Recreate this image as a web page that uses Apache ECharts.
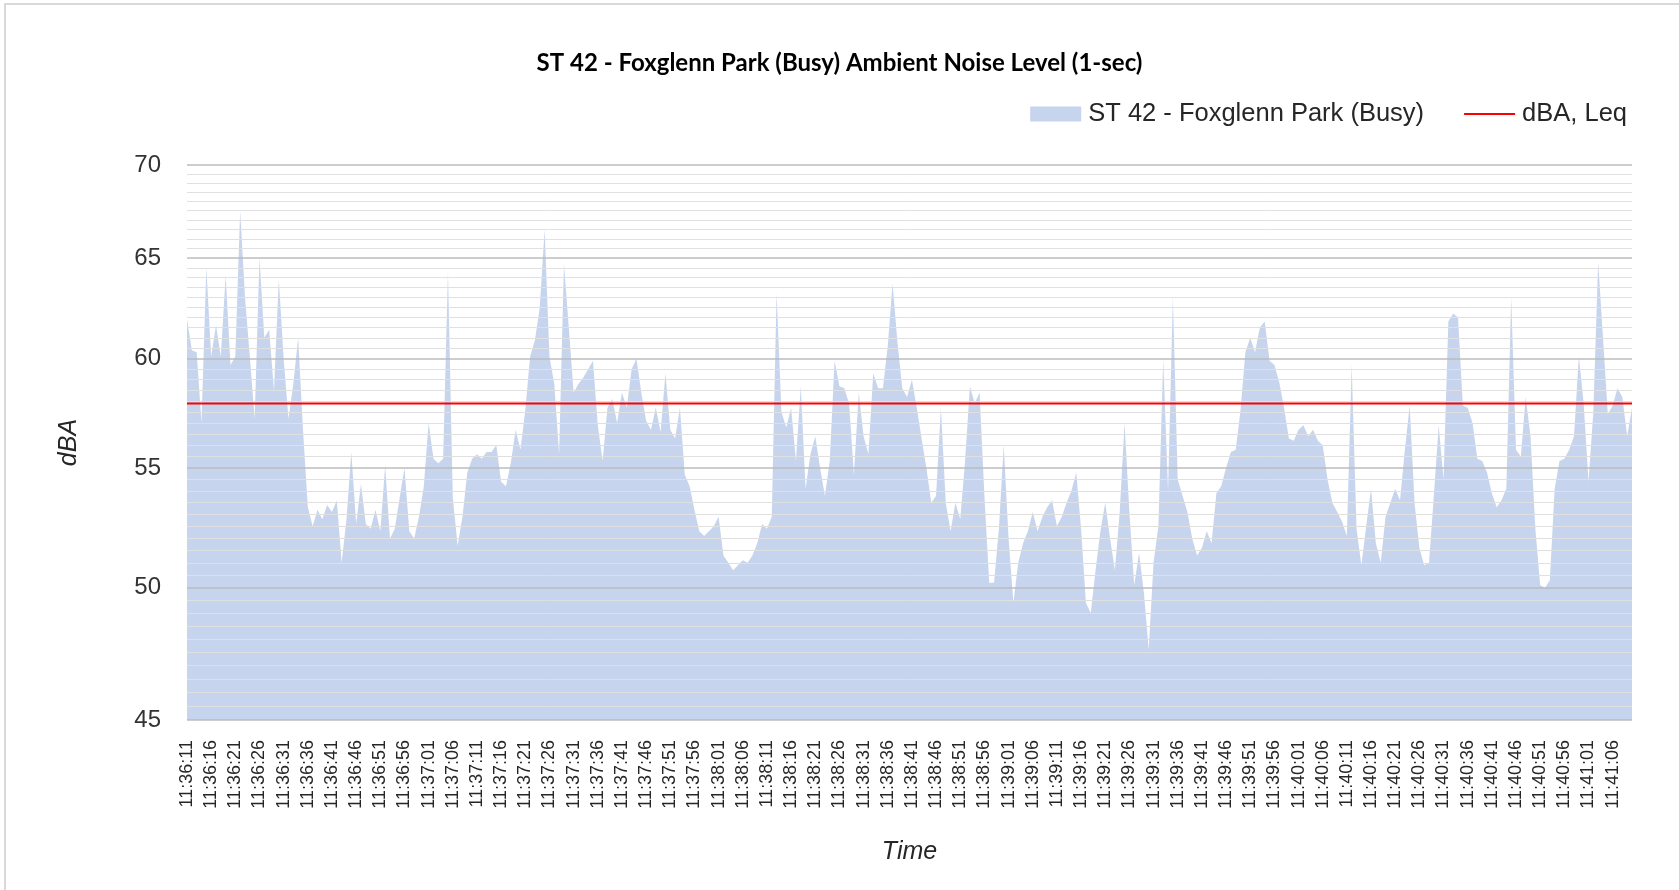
<!DOCTYPE html>
<html>
<head>
<meta charset="utf-8">
<script src="https://cdn.jsdelivr.net/npm/echarts@6/dist/echarts.min.js"></script>
<style>
  html, body { margin: 0; padding: 0; background: #fff; }
  #frame { position: absolute; left: 4px; top: 3px; width: 1700px; height: 900px; border-left: 2px solid #d9d9d9; border-top: 2px solid #d9d9d9; }
  #chart { position: absolute; left: 0; top: 0; width: 1679px; height: 890px; }
</style>
</head>
<body>
<div id="frame"></div>
<div id="chart"></div>
<script>
// ---- Data (1-second samples, 11:36:11 onwards) ----
const START_TIME = '11:36:11';
const SAMPLE_COUNT = 300;
const LEQ = 57.9;
const Y_TICKS = [45, 50, 55, 60, 65, 70];
const SERIES_NAME = 'ST 42 - Foxglenn Park (Busy)';
const LEQ_NAME = 'dBA, Leq';

const levels1 = [61.9,60.4,60.3,57.0,64.5,60.1,61.6,60.1,64.1,59.7,60.1,67.5,63.0,60.1,57.2,65.0,61.0,61.4,58.5,63.9,
  60.0,57.2,58.8,61.0,56.7,53.3,52.5,53.2,52.8,53.4,53.1,53.6,51.0,52.8,55.7,52.6,54.3,52.6,52.4,53.2,
  52.3,55.1,52.0,52.4,53.7,55.0,52.3,52.0,52.9,54.2];
const levels2 = [57.0,55.4,55.2,55.4,64.3,53.7,51.7,52.9,54.8,55.4,55.6,55.4,55.7,55.7,56.0,54.4,54.2,55.2,56.7,55.8,
  57.6,60.1,60.9,62.5,66.5,60.1,58.8,55.6,64.7,61.5,58.4,58.8,59.1,59.5,59.9,56.9,55.3,57.7,58.1,57.0,
  58.4,57.7,59.5,60.0,58.4,57.1,56.7,57.7,56.6,59.3];
const levels3 = [56.7,56.3,57.7,54.7,54.2,53.2,52.3,52.1,52.3,52.5,52.9,51.3,51.0,50.7,50.9,51.1,51.0,51.3,51.8,52.6,
  52.4,52.9,63.2,57.5,56.8,57.7,55.3,58.7,54.1,55.6,56.4,55.0,53.8,55.3,59.9,58.7,58.6,57.9,54.7,58.4,
  56.4,55.6,59.3,58.6,58.6,60.6,63.7,60.8,58.6,58.2];
const levels4 = [59.0,57.7,56.3,55.0,53.5,53.8,57.7,53.5,52.3,53.5,52.8,55.3,58.7,57.9,58.4,53.8,50.2,50.2,52.4,56.0,
  52.0,49.4,51.0,51.8,52.3,53.1,52.3,52.9,53.3,53.6,52.5,52.9,53.5,54.0,54.8,52.4,49.4,49.0,50.7,52.3,
  53.5,52.0,50.7,53.1,57.0,53.1,50.1,51.4,49.8,47.6];
const levels5 = [51.0,52.5,60.0,54.0,63.0,54.5,53.8,53.1,52.0,51.3,51.6,52.3,51.8,53.9,54.2,55.0,55.7,55.8,57.6,60.3,
  61.0,60.3,61.5,61.8,59.9,59.7,58.9,57.7,56.3,56.2,56.7,56.9,56.4,56.7,56.2,56.0,54.5,53.5,53.1,52.7,
  52.1,59.7,52.4,50.9,52.5,54.1,51.8,51.0,52.9,53.5];
const levels6 = [54.1,53.6,55.8,57.8,53.5,51.6,50.9,51.0,53.8,56.9,54.5,61.8,62.2,62.0,57.8,57.7,57.0,55.4,55.3,54.8,
  53.9,53.3,53.6,54.1,63.0,55.8,55.5,58.2,56.4,52.4,50.1,50.0,50.3,54.1,55.3,55.4,55.8,56.4,60.1,57.9,
  54.4,57.5,64.8,61.0,57.4,57.8,58.6,58.2,56.4,57.7];

const levels = [].concat(levels1, levels2, levels3, levels4, levels5, levels6);

// time categories, one per second
const categories = [];
(function () {
  const p = START_TIME.split(':').map(Number);
  let t = p[0] * 3600 + p[1] * 60 + p[2];
  const pad = n => (n < 10 ? '0' : '') + n;
  for (let k = 0; k < SAMPLE_COUNT; k++, t++) {
    categories.push(Math.floor(t / 3600) + ':' + pad(Math.floor(t / 60) % 60) + ':' + pad(t % 60));
  }
})();

// gridline values: major at ticks, minor every 0.5 dBA
const minorGrid = [];
for (let v = 45.5; v < 70; v += 0.5) {
  if (Y_TICKS.indexOf(v) < 0) minorGrid.push(v);
}

const AXIS_FONT = '"Liberation Sans", Arial, sans-serif';
const chart = echarts.init(document.getElementById('chart'), null, { renderer: 'canvas' });

chart.setOption({
  animation: false,
  backgroundColor: 'transparent',
  title: {
    text: 'ST 42 - Foxglenn Park (Busy) Ambient Noise Level (1-sec)',
    left: 'center',
    top: 46,
    textStyle: { fontFamily: 'Lato, "Open Sans", sans-serif', fontWeight: 'bold', fontSize: 24, color: '#000' }
  },
  legend: {
    right: 47,
    top: 96,
    itemGap: 40,
    itemWidth: 51,
    itemHeight: 15,
    textStyle: { fontFamily: AXIS_FONT, fontSize: 25.5, color: '#262626', padding: [0, 0, 0, 2] },
    data: [
      { name: SERIES_NAME, icon: 'rect', itemStyle: { color: '#c6d4ee', opacity: 1 } },
      { name: LEQ_NAME, icon: 'path://M0,0 L100,0 L100,4 L0,4 Z', itemStyle: { color: '#ff0000' } }
    ]
  },
  grid: { left: 187, right: 47, top: 165, bottom: 170, containLabel: false },
  xAxis: {
    type: 'category',
    data: categories,
    boundaryGap: false,
    name: 'Time',
    nameLocation: 'middle',
    nameGap: 120,
    nameTextStyle: { fontFamily: AXIS_FONT, fontStyle: 'italic', fontSize: 25, color: '#262626' },
    axisLine: { show: false },
    axisTick: { show: false },
    splitLine: { show: false },
    axisLabel: {
      interval: 4,
      rotate: 90,
      margin: 20,
      fontFamily: AXIS_FONT,
      fontSize: 18,
      color: '#262626'
    }
  },
  yAxis: {
    type: 'log',
    logBase: 10,
    min: 45,
    max: 70,
    name: 'dBA',
    nameLocation: 'middle',
    nameGap: 105,
    nameRotate: 90,
    nameTextStyle: { fontFamily: AXIS_FONT, fontStyle: 'italic', fontSize: 25, color: '#262626' },
    axisLine: { show: false },
    axisTick: { show: false, customValues: Y_TICKS },
    splitLine: { show: false },
    minorSplitLine: { show: false },
    axisLabel: {
      customValues: Y_TICKS,
      margin: 26,
      fontFamily: AXIS_FONT,
      fontSize: 24,
      color: '#333'
    }
  },
  series: [
    {
      name: '__grid',
      type: 'line',
      data: [],
      silent: true,
      z: 1,
      markLine: {
        silent: true,
        symbol: 'none',
        label: { show: false },
        emphasis: { disabled: true },
        data: minorGrid.map(v => ({ yAxis: v, lineStyle: { color: '#e0e0e0', width: 1, type: 'solid' } }))
          .concat(Y_TICKS.map(v => ({ yAxis: v, lineStyle: { color: '#bdbdbd', width: 1.5, type: 'solid' } })))
      }
    },
    {
      name: SERIES_NAME,
      type: 'line',
      data: levels,
      z: 2,
      symbol: 'none',
      showSymbol: false,
      lineStyle: { width: 0, color: '#b4c7e7' },
      itemStyle: { color: '#c6d4ee' },
      areaStyle: { color: '#b4c7e7', opacity: 0.76, origin: 'start' }
    },
    {
      name: LEQ_NAME,
      type: 'line',
      z: 3,
      symbol: 'none',
      showSymbol: false,
      data: [[categories[0], LEQ], [categories[categories.length - 1], LEQ]],
      lineStyle: { color: '#ff0000', width: 2 },
      itemStyle: { color: '#ff0000' }
    }
  ]
});
</script>
</body>
</html>
